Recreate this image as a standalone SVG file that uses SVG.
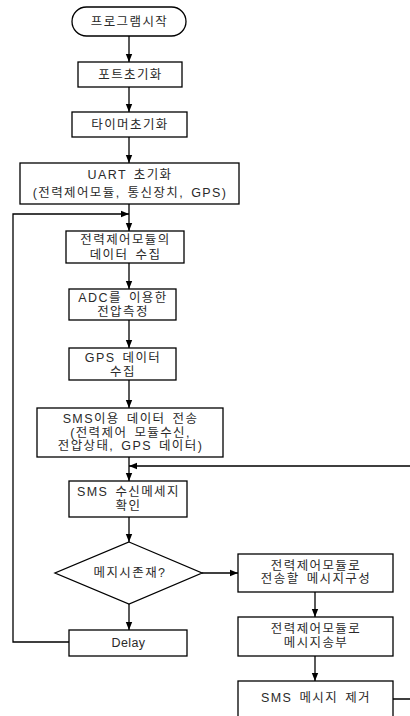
<svg xmlns="http://www.w3.org/2000/svg" width="410" height="716" viewBox="0 0 410 716">
<defs>
<marker id="ah" markerWidth="8" markerHeight="11" refX="10" refY="4" orient="auto" markerUnits="userSpaceOnUse" viewBox="0 0 10 8">
<path d="M0,0 L10,4 L0,8 Z" fill="#000"/>
</marker>
<style>
.n{fill:#fff;stroke:#000;stroke-width:1.3}
.c{fill:none;stroke:#000;stroke-width:1.3}
text{font-family:"Liberation Sans","Noto Sans CJK KR",sans-serif;font-size:12.5px;fill:#2a2a2a;text-anchor:middle;dominant-baseline:central;letter-spacing:1.4px;word-spacing:2.2px}
.lat{letter-spacing:0.4px}
</style>
</defs>
<rect width="410" height="716" fill="#fff"/>
<g id="connectors">
<path class="c" d="M129,36 V62" marker-end="url(#ah)"/>
<path class="c" d="M129,87 V112" marker-end="url(#ah)"/>
<path class="c" d="M129,137 V163" marker-end="url(#ah)"/>
<path class="c" d="M129,204 V231" marker-end="url(#ah)"/>
<path class="c" d="M129,263 V289" marker-end="url(#ah)"/>
<path class="c" d="M129,320 V348" marker-end="url(#ah)"/>
<path class="c" d="M129,380 V408" marker-end="url(#ah)"/>
<path class="c" d="M129,457 V481" marker-end="url(#ah)"/>
<path class="c" d="M129,517 V542" marker-end="url(#ah)"/>
<path class="c" d="M129,604 V630" marker-end="url(#ah)"/>
<path class="c" d="M202,573 H238" marker-end="url(#ah)"/>
<path class="c" d="M315,592 V617" marker-end="url(#ah)"/>
<path class="c" d="M315,656 V681" marker-end="url(#ah)"/>
<path class="c" d="M69,642 H13 V214 H129" marker-end="url(#ah)"/>
<path class="c" d="M393,699 H413 V466 H129" marker-end="url(#ah)"/>
</g>
<g id="start">
<rect class="n" x="72" y="7" width="114" height="29" rx="14.5"/>
<text x="129.5" y="21.5">프로그램시작</text>
</g>
<g id="port">
<rect class="n" x="78" y="62" width="104" height="25"/>
<text x="130.5" y="74.5">포트초기화</text>
</g>
<g id="timer">
<rect class="n" x="72" y="112" width="115" height="25"/>
<text x="130" y="124.5">타이머초기화</text>
</g>
<g id="uart">
<rect class="n" x="20" y="163" width="219" height="41"/>
<text x="130" y="175">UART 초기화</text>
<text x="130" y="192.5">(전력제어모듈, 통신장치, GPS)</text>
</g>
<g id="collect">
<rect class="n" x="66" y="231" width="118" height="32"/>
<text x="125.5" y="239.5">전력제어모듈의</text>
<text x="125.5" y="254.5">데이터 수집</text>
</g>
<g id="adc">
<rect class="n" x="69" y="289" width="107" height="31"/>
<text x="123" y="297.5">ADC를 이용한</text>
<text x="123" y="312">전압측정</text>
</g>
<g id="gps">
<rect class="n" x="69" y="348" width="107" height="32"/>
<text x="123" y="357.5">GPS 데이터</text>
<text x="123" y="371.5">수집</text>
</g>
<g id="smssend">
<rect class="n" x="37" y="408" width="186" height="49"/>
<text x="130.5" y="419">SMS이용 데이터 전송</text>
<text x="130.5" y="432.5">(전력제어 모듈수신,</text>
<text x="130.5" y="446">전압상태, GPS 데이터)</text>
</g>
<g id="smsrecv">
<rect class="n" x="69" y="481" width="118" height="36"/>
<text x="128.5" y="491.5">SMS 수신메세지</text>
<text x="128.5" y="505.5">확인</text>
</g>
<g id="decision">
<polygon class="n" points="129,542 202,573 129,604 55,573"/>
<text x="130" y="573">메지시존재?</text>
</g>
<g id="delay">
<rect class="n" x="69" y="630" width="118" height="26"/>
<text class="lat" x="128.5" y="643">Delay</text>
</g>
<g id="compose">
<rect class="n" x="238" y="554" width="155" height="38"/>
<text x="316" y="565.5">전력제어모듈로</text>
<text x="316" y="579">전송할 메시지구성</text>
</g>
<g id="transmit">
<rect class="n" x="238" y="617" width="155" height="39"/>
<text x="316" y="628.5">전력제어모듈로</text>
<text x="316" y="642.5">메시지송부</text>
</g>
<g id="remove">
<rect class="n" x="238" y="681" width="155" height="40"/>
<text x="316" y="698">SMS 메시지 제거</text>
</g>
</svg>
